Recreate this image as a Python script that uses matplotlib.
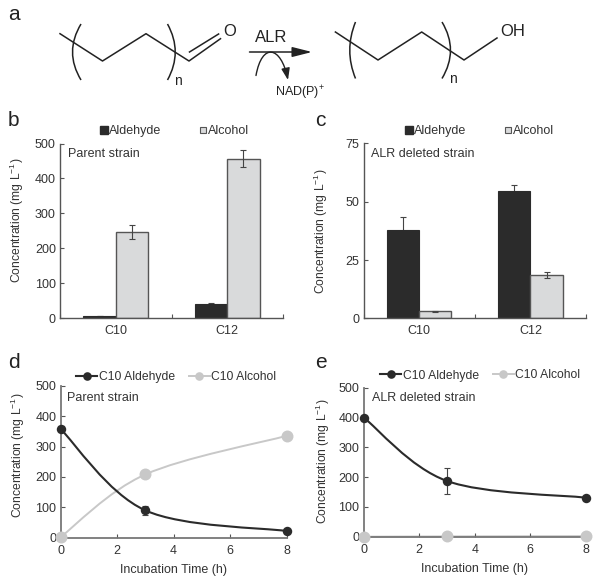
import matplotlib
matplotlib.use('Agg')
import numpy as np
import matplotlib.pyplot as plt
from matplotlib.lines import Line2D
from matplotlib.patches import FancyArrowPatch, PathPatch
from matplotlib.path import Path

plt.rcParams['font.family'] = ['Liberation Sans', 'DejaVu Sans']
plt.rcParams['mathtext.fontset'] = 'custom'
plt.rcParams['mathtext.rm'] = 'Liberation Sans'
plt.rcParams['mathtext.default'] = 'regular'
plt.rcParams['font.size'] = 9

W, H = 600, 583
DARK = '#2b2b2b'
LIGHT = '#c8c8c8'
TEXT = '#333333'
AXIS = '#555555'

# data
strains = ['C10', 'C12']
b_aldehyde = [7, 40]
b_aldehyde_err = [1, 3]
b_alcohol = [246, 456]
b_alcohol_err = [20, 24]

c_aldehyde = [38, 54.5]
c_aldehyde_err = [5.5, 2.5]
c_alcohol = [3, 18.7]
c_alcohol_err = [0.2, 1.2]

hours = [0, 3, 8]
d_aldehyde = [358, 90, 22]
d_aldehyde_err = [8, 15, 5]
d_alcohol = [2, 208, 335]
d_alcohol_err = [3, 6, 5]

e_aldehyde = [400, 187, 131]
e_aldehyde_err = [5, 45, 6]
e_alcohol = [0, 1, 2]
e_alcohol_err = [1, 1, 1]

ylabel = 'Concentration (mg L$^{-1}$)'

fig = plt.figure(figsize=(W / 100, H / 100), dpi=100)


def make_axes(left, right, top, bottom):
    ax = fig.add_axes([left / W, 1 - bottom / H, (right - left) / W, (bottom - top) / H])
    ax.spines['top'].set_visible(False)
    ax.spines['right'].set_visible(False)
    for s in ['left', 'bottom']:
        ax.spines[s].set_color(AXIS)
        ax.spines[s].set_linewidth(1.0)
    ax.tick_params(direction='in', length=3, width=0.8, color=AXIS, labelcolor=TEXT,
                   labelsize=9, pad=3)
    return ax


def place_ylabel(ax, x_px, y_frac):
    ax.set_ylabel(ylabel, color=TEXT, fontsize=8.7)
    box = ax.get_position()
    ax.yaxis.set_label_coords((x_px / W - box.x0) / box.width, y_frac)


def bar_panel(ax, ald, ald_err, alc, alc_err, ymax, step):
    x = np.arange(len(strains))
    w = 0.29
    # error bars of the dark bars sit behind them, only the upper half shows
    ax.errorbar(x - w / 2, ald, yerr=ald_err, fmt='none', ecolor='#444444', elinewidth=0.8,
                capsize=2, capthick=0.8, zorder=1)
    ax.bar(x - w / 2, ald, w, color=DARK, edgecolor=DARK, linewidth=0.8, zorder=2)
    ax.bar(x + w / 2, alc, w, color='#d9dadb', edgecolor='#555555', linewidth=1.0, zorder=2)
    ax.errorbar(x + w / 2, alc, yerr=alc_err, fmt='none', ecolor='#444444', elinewidth=0.8,
                capsize=2, capthick=0.8, zorder=3)
    ax.set_xlim(-0.5, 1.5)
    ax.set_ylim(0, ymax)
    ax.set_yticks(np.arange(0, ymax + 1, step))
    ax.set_xticks([-0.5, 0.5, 1.5])
    ax.set_xticklabels([])
    ax.set_xticks(x, minor=True)
    ax.set_xticklabels(strains, minor=True)
    ax.tick_params(axis='x', which='minor', length=0, pad=5, labelcolor=TEXT, labelsize=9)
    handles = [Line2D([], [], ls='none', marker='s', ms=5.5, mfc=DARK, mec=DARK),
               Line2D([], [], ls='none', marker='s', ms=5, mfc='#d9dadb', mec='#555555', mew=0.8)]
    return handles


# smooth line through the points, same idea as the spreadsheet smoothing option
def smooth_path(xs, ys):
    pts = np.column_stack([xs, ys]).astype(float)
    verts = [pts[0]]
    codes = [Path.MOVETO]
    for i in range(len(pts) - 1):
        p0 = pts[max(i - 1, 0)]
        p1 = pts[i]
        p2 = pts[i + 1]
        p3 = pts[min(i + 2, len(pts) - 1)]
        verts += [p1 + (p2 - p0) / 6, p2 - (p3 - p1) / 6, p2]
        codes += [Path.CURVE4] * 3
    return Path(verts, codes)


def line_panel(ax, ald, ald_err, alc, alc_err):
    ax.spines['left'].set_color('#777777')
    ax.spines['bottom'].set_color('#777777')
    ax.spines['left'].set_linewidth(1.3)
    ax.spines['bottom'].set_linewidth(1.3)
    ax.add_patch(PathPatch(smooth_path(hours, alc), fc='none', ec=LIGHT, lw=1.4, clip_on=False))
    ax.errorbar(hours, alc, yerr=alc_err, fmt='none', ecolor=LIGHT, elinewidth=0.8, capsize=2,
                clip_on=False)
    ax.plot(hours, alc, 'o', ms=8.6, color=LIGHT, mec='none', clip_on=False, zorder=3)
    ax.add_patch(PathPatch(smooth_path(hours, ald), fc='none', ec=DARK, lw=1.5, clip_on=False, zorder=4))
    ax.errorbar(hours, ald, yerr=ald_err, fmt='none', ecolor='#444444', elinewidth=0.8, capsize=2,
                capthick=0.8, clip_on=False, zorder=4)
    ax.plot(hours, ald, 'o', ms=6.8, color=DARK, mec='none', clip_on=False, zorder=5)
    ax.set_xlim(0, 8)
    ax.set_ylim(0, 500)
    ax.set_xticks([0, 2, 4, 6, 8])
    ax.set_yticks(np.arange(0, 501, 100))
    ax.set_xlabel('Incubation Time (h)', color=TEXT, fontsize=9, labelpad=5)
    ax.tick_params(axis='x', pad=5)
    handles = [Line2D([], [], color=DARK, lw=1.5, marker='o', ms=6.2, mec='none'),
               Line2D([], [], color=LIGHT, lw=1.4, marker='o', ms=6.2, mec='none')]
    return handles


def add_legend(ax, handles, labels, x_px, y_px, spacing, hlen, size):
    ax.legend(handles, labels, ncol=2, frameon=False, loc='center left',
              bbox_to_anchor=(x_px / W, 1 - y_px / H), bbox_transform=fig.transFigure,
              borderpad=0, borderaxespad=0, handlelength=hlen, handletextpad=0.12,
              columnspacing=spacing, fontsize=size, labelcolor=TEXT)


# panel b
ax_b = make_axes(60, 283, 143.5, 318.3)
h = bar_panel(ax_b, b_aldehyde, b_aldehyde_err, b_alcohol, b_alcohol_err, 500, 100)
place_ylabel(ax_b, 26, 0.562)
add_legend(ax_b, h, ['Aldehyde', 'Alcohol'], 100, 131, 3.0, 0.6, 9)

# panel c
ax_c = make_axes(363.5, 586, 143.5, 318.3)
h = bar_panel(ax_c, c_aldehyde, c_aldehyde_err, c_alcohol, c_alcohol_err, 75, 25)
place_ylabel(ax_c, 330, 0.5)
add_legend(ax_c, h, ['Aldehyde', 'Alcohol'], 405, 131, 3.0, 0.6, 9)

# panel d
ax_d = make_axes(60.5, 286.5, 385.7, 537.7)
h = line_panel(ax_d, d_aldehyde, d_aldehyde_err, d_alcohol, d_alcohol_err)
place_ylabel(ax_d, 27, 0.544)
add_legend(ax_d, h, ['C10 Aldehyde', 'C10 Alcohol'], 76, 377, 1.15, 1.75, 8.7)

# panel e
ax_e = make_axes(363.7, 585.7, 387.7, 536.7)
h = line_panel(ax_e, e_aldehyde, e_aldehyde_err, e_alcohol, e_alcohol_err)
place_ylabel(ax_e, 332, 0.503)
add_legend(ax_e, h, ['C10 Aldehyde', 'C10 Alcohol'], 380, 375.5, 1.15, 1.75, 8.7)

# overlay in pixel coordinates, for the scheme in panel a and the loose text
ov = fig.add_axes([0, 0, 1, 1], zorder=10)
ov.set_xlim(0, W)
ov.set_ylim(H, 0)
ov.axis('off')
ov.patch.set_alpha(0)

for label, x, y in [('a', 8, 15), ('b', 8, 120), ('c', 315, 120), ('d', 8, 363), ('e', 315, 363)]:
    ov.text(x, y, label, fontsize=15, color='#222222', va='center', ha='left')

for label, x, y in [('Parent strain', 68, 154), ('ALR deleted strain', 371, 154),
                    ('Parent strain', 67, 398), ('ALR deleted strain', 372, 398)]:
    ov.text(x, y, label, fontsize=9, color=TEXT, va='center', ha='left')

# scheme
chain_left = [(60, 33.7), (102.5, 61), (146, 33.7), (189, 61), (220.5, 38.7)]
double_bond = [(189.5, 52), (218.6, 34)]
chain_right = [(335.4, 32), (378, 60), (421.7, 32), (464, 60), (497, 38)]
ov.plot(*zip(*chain_left), color='#222222', lw=1.1)
ov.plot(*zip(*double_bond), color='#222222', lw=1.1)
ov.plot(*zip(*chain_right), color='#222222', lw=1.1)


def bracket(x_end, x_mid, y0, y1):
    p = Path([(x_end, y0), (x_mid, (y0 + y1) / 2), (x_end, y1)],
             [Path.MOVETO, Path.CURVE3, Path.CURVE3])
    ov.add_patch(PathPatch(p, fc='none', ec='#222222', lw=1.1))


bracket(81, 64, 24, 80)
bracket(167.5, 183, 24, 80)
bracket(355.5, 344, 22, 78.5)
bracket(442, 459, 22, 78.5)

ov.text(230, 31, 'O', fontsize=12, color='#222222', ha='center', va='center')
ov.text(513, 32, 'OH', fontsize=12, color='#222222', ha='center', va='center')
ov.text(178, 81, 'n', fontsize=10, color='#222222', ha='center', va='center')
ov.text(453, 79, 'n', fontsize=10, color='#222222', ha='center', va='center')
ov.text(271, 37, 'ALR', fontsize=12, color='#222222', ha='center', va='center')
ov.text(275, 93, 'NAD(P)$^{+}$', fontsize=9, color='#222222', ha='left', va='center')

ov.add_patch(FancyArrowPatch((249.5, 52), (312, 52), arrowstyle='-|>,head_length=7.5,head_width=1.9',
                             color='#222222', lw=1.1, shrinkA=0, shrinkB=0, mutation_scale=1.6))
arc = Path([(256, 75.5), (262, 42), (281, 46), (288, 80)],
           [Path.MOVETO, Path.CURVE4, Path.CURVE4, Path.CURVE4])
ov.add_patch(FancyArrowPatch(path=arc, arrowstyle='-|>,head_length=5,head_width=1.8',
                             color='#222222', lw=1.0, shrinkA=0, shrinkB=0, mutation_scale=1.4))

fig.savefig('out.png', dpi=100)
